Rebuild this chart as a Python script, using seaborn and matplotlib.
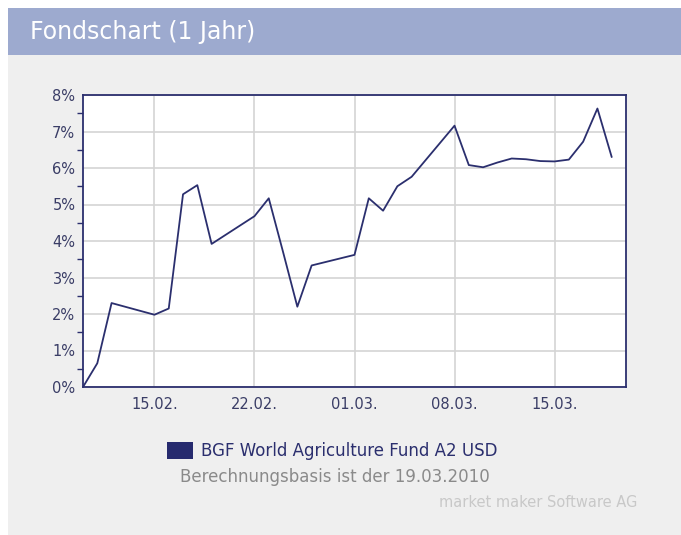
import matplotlib
matplotlib.use("Agg")
import matplotlib.pyplot as plt
import matplotlib.dates as mdates
import seaborn as sns
import pandas as pd
from matplotlib.patches import Rectangle
from matplotlib.ticker import MultipleLocator, FuncFormatter

# ---- data ----
dates = ["2010-02-10", "2010-02-11", "2010-02-12", "2010-02-15", "2010-02-16",
         "2010-02-17", "2010-02-18", "2010-02-19", "2010-02-22", "2010-02-23",
         "2010-02-24", "2010-02-25", "2010-02-26", "2010-03-01", "2010-03-02",
         "2010-03-03", "2010-03-04", "2010-03-05", "2010-03-08", "2010-03-09",
         "2010-03-10", "2010-03-11", "2010-03-12", "2010-03-13", "2010-03-14",
         "2010-03-15", "2010-03-16", "2010-03-17", "2010-03-18", "2010-03-19"]
values = [0.0, 0.65, 2.30, 1.98, 2.15,
          5.28, 5.53, 3.92, 4.68, 5.17,
          3.70, 2.20, 3.33, 3.62, 5.17,
          4.83, 5.50, 5.76, 7.16, 6.08,
          6.02, 6.15, 6.26, 6.24, 6.19,
          6.18, 6.23, 6.72, 7.63, 6.30]
series_name = "BGF World Agriculture Fund A2 USD"
title_text = "Fondschart (1 Jahr)"
basis_text = "Berechnungsbasis ist der 19.03.2010"
credit_text = "market maker Software AG"
y_ticks = [0, 1, 2, 3, 4, 5, 6, 7, 8]

df = pd.DataFrame({"Datum": pd.to_datetime(dates), "Wert": values})

NAVY = "#2b2f6e"
W, H = 681, 535

sns.set_theme(style="white")
plt.rcParams["font.family"] = ["DejaVu Sans"]

fig = plt.figure(figsize=(W / 100, H / 100), dpi=100)
fig.patch.set_facecolor("white")

# panel and header (behind the axes)
fig.patches.append(Rectangle((8 / W, 0), 1 - 8 / W, (H - 55) / H,
                             transform=fig.transFigure, facecolor="#efefef",
                             edgecolor="none", zorder=-2))
fig.patches.append(Rectangle((8 / W, (H - 55) / H), 1 - 8 / W, 47 / H,
                             transform=fig.transFigure, facecolor="#9daacf",
                             edgecolor="none", zorder=-2))
fig.text(30 / W, 1 - 31.5 / H, title_text, color="white", fontsize=17,
         ha="left", va="center")

ax = fig.add_axes([83 / W, 1 - 387 / H, (626 - 83) / W, (387 - 95) / H])
ax.set_facecolor("white")

sns.lineplot(data=df, x="Datum", y="Wert", ax=ax, color=NAVY, linewidth=1.3,
             zorder=3)

ax.set_xlim(pd.Timestamp("2010-02-10"), pd.Timestamp("2010-03-20"))
ax.set_ylim(0, 8)
ax.set_yticks(y_ticks)
ax.yaxis.set_minor_locator(MultipleLocator(0.5))
ax.yaxis.set_major_formatter(FuncFormatter(lambda v, p: f"{int(v)}%"))
ax.xaxis.set_major_locator(mdates.WeekdayLocator(byweekday=mdates.MO))
ax.xaxis.set_major_formatter(mdates.DateFormatter("%d.%m."))

ax.grid(True, which="major", color="#d4d4d4", linewidth=1.2, zorder=1)
ax.set_axisbelow(True)
for s in ax.spines.values():
    s.set_color(NAVY)
    s.set_linewidth(1.3)
ax.tick_params(axis="both", which="both", direction="out", color=NAVY,
               width=1.0, labelcolor="#3a3d66", labelsize=10.5)
ax.tick_params(axis="y", which="major", length=4, pad=1.5)
ax.tick_params(axis="y", which="minor", length=4, left=True)
ax.tick_params(axis="x", which="major", length=5, pad=2)
ax.set_xlabel("")
ax.set_ylabel("")
if ax.get_legend() is not None:
    ax.get_legend().remove()

# legend / captions
fig.patches.append(Rectangle((167 / W, 1 - 459 / H), 26 / W, 17 / H,
                             transform=fig.transFigure, facecolor="#262a6e",
                             edgecolor="none", zorder=2))
fig.text(201 / W, 1 - 451 / H, series_name, color=NAVY, fontsize=12,
         ha="left", va="center")
fig.text(180 / W, 1 - 477.5 / H, basis_text, color="#8a8a8a", fontsize=12,
         ha="left", va="center")
fig.text(637 / W, 1 - 502.5 / H, credit_text, color="#c8c8c8", fontsize=10.5,
         ha="right", va="center")

fig.savefig("out.png", dpi=100, facecolor=fig.get_facecolor())
